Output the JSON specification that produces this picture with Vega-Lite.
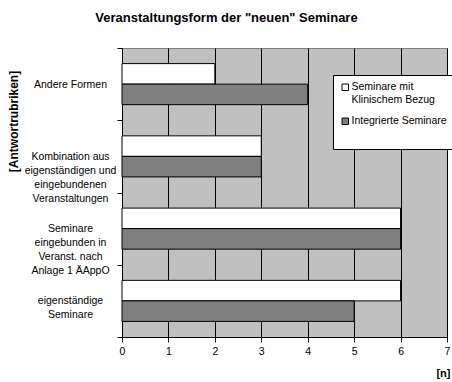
{
  "$schema": "https://vega.github.io/schema/vega-lite/v6.json",
  "width": 325,
  "height": 289,
  "autosize": {"type": "none"},
  "padding": {"left": 122, "top": 48, "right": 5, "bottom": 45},
  "background": "white",
  "title": {
    "text": "Veranstaltungsform der \"neuen\" Seminare",
    "font": "Liberation Sans",
    "fontSize": 13,
    "fontWeight": "bold",
    "color": "black",
    "anchor": "middle",
    "frame": "group",
    "dx": -58,
    "offset": 18
  },
  "data": {
    "values": [
      {"rubrik": "Andere Formen", "serie": "Seminare mit|Klinischem Bezug", "n": 2},
      {"rubrik": "Andere Formen", "serie": "Integrierte Seminare", "n": 4},
      {"rubrik": "Kombination aus|eigenständigen und|eingebundenen|Veranstaltungen", "serie": "Seminare mit|Klinischem Bezug", "n": 3},
      {"rubrik": "Kombination aus|eigenständigen und|eingebundenen|Veranstaltungen", "serie": "Integrierte Seminare", "n": 3},
      {"rubrik": "Seminare|eingebunden in|Veranst. nach|Anlage 1 ÄAppO", "serie": "Seminare mit|Klinischem Bezug", "n": 6},
      {"rubrik": "Seminare|eingebunden in|Veranst. nach|Anlage 1 ÄAppO", "serie": "Integrierte Seminare", "n": 6},
      {"rubrik": "eigenständige|Seminare", "serie": "Seminare mit|Klinischem Bezug", "n": 6},
      {"rubrik": "eigenständige|Seminare", "serie": "Integrierte Seminare", "n": 5}
    ]
  },
  "mark": {"type": "bar", "stroke": "black", "strokeWidth": 1},
  "encoding": {
    "y": {
      "field": "rubrik",
      "type": "nominal",
      "sort": [
        "Andere Formen",
        "Kombination aus|eigenständigen und|eingebundenen|Veranstaltungen",
        "Seminare|eingebunden in|Veranst. nach|Anlage 1 ÄAppO",
        "eigenständige|Seminare"
      ],
      "scale": {"paddingInner": 0, "paddingOuter": 0},
      "axis": {
        "title": "[Antwortrubriken]",
        "titleFont": "Liberation Sans",
        "titleFontSize": 12,
        "titleFontWeight": "bold",
        "titleColor": "black",
        "titleAngle": -90,
        "titleX": -109,
        "titleY": 73,
        "titleAlign": "center",
        "titleBaseline": "middle",
        "labelExpr": "split(datum.label, '|')",
        "labelFont": "Liberation Sans",
        "labelFontSize": 10.5,
        "labelColor": "black",
        "labelAlign": "center",
        "labelBaseline": "middle",
        "labelLineHeight": 14,
        "labelPadding": 47,
        "labelLimit": 0,
        "tickBand": "extent",
        "tickSize": 5,
        "tickColor": "black",
        "domainColor": "black",
        "grid": false
      }
    },
    "yOffset": {
      "field": "serie",
      "sort": ["Seminare mit|Klinischem Bezug", "Integrierte Seminare"],
      "scale": {"paddingInner": 0, "paddingOuter": 0.76}
    },
    "x": {
      "field": "n",
      "type": "quantitative",
      "scale": {"domain": [0, 7], "nice": false},
      "axis": {
        "title": "[n]",
        "titleFont": "Liberation Sans",
        "titleFontSize": 11,
        "titleFontWeight": "bold",
        "titleColor": "black",
        "titleX": 328,
        "titleY": 36,
        "titleAlign": "right",
        "titleBaseline": "middle",
        "values": [0, 1, 2, 3, 4, 5, 6, 7],
        "format": "d",
        "labelFont": "Liberation Sans",
        "labelFontSize": 10.5,
        "labelColor": "black",
        "labelPadding": 4,
        "labelFlush": false,
        "tickSize": 5,
        "tickColor": "black",
        "domainColor": "black",
        "grid": true,
        "gridColor": "black",
        "gridOpacity": 1
      }
    },
    "fill": {
      "field": "serie",
      "type": "nominal",
      "scale": {
        "domain": ["Seminare mit|Klinischem Bezug", "Integrierte Seminare"],
        "range": ["#FFFFFF", "#808080"]
      },
      "legend": {
        "title": " ",
        "titleOrient": "bottom",
        "titleFontSize": 11,
        "titlePadding": 4,
        "orient": "none",
        "legendX": 211,
        "legendY": 27,
        "fillColor": "white",
        "strokeColor": "black",
        "padding": 7,
        "symbolType": "square",
        "symbolSize": 42,
        "symbolStrokeColor": "black",
        "symbolStrokeWidth": 1,
        "labelExpr": "split(datum.label, '|')",
        "labelFont": "Liberation Sans",
        "labelFontSize": 10.5,
        "labelColor": "black",
        "labelLimit": 0,
        "labelOffset": 1,
        "rowPadding": 10
      }
    }
  },
  "config": {
    "view": {"fill": "#C0C0C0", "stroke": "#808080"}
  }
}
